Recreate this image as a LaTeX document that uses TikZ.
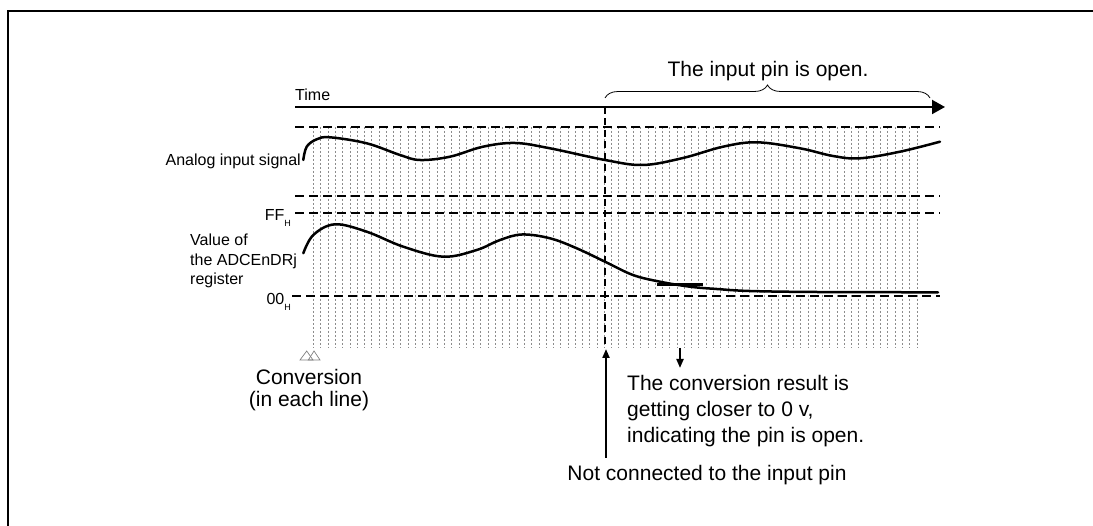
\documentclass[tikz,border=0pt]{standalone}
\usepackage{fontspec}
\setmainfont{Liberation Sans}
\usetikzlibrary{arrows.meta,decorations.pathreplacing}
\begin{document}
\begin{tikzpicture}[x=1pt,y=-1pt,
  big/.style={font=\fontsize{21}{25}\selectfont, inner sep=0pt},
  small/.style={font=\fontsize{16}{19}\selectfont, inner sep=0pt},
  level/.style={line width=2pt, dash pattern=on 8.5pt off 5.5pt},
  gridline/.style={line width=0.7pt, black!45, dash pattern=on 2.5pt off 1.5pt},
  signal/.style={line width=2.5pt, line cap=round},
  pointer/.style={line width=2pt, -{Triangle[length=9pt,width=7pt]}},
  tri/.style={black!50, line width=0.7pt, line join=miter},
]
\useasboundingbox (0,0) rectangle (1093,526);
% frame
\draw[line width=2pt] (7.5,527) -- (7.5,11) -- (1094,11);

% conversion grid
\foreach \i in {0,...,83}
  \draw[gridline] ({313.5+\i*7.27},127) -- ({313.5+\i*7.27},348);

% level lines
\draw[level] (295,127) -- (940,127);
\draw[level] (295,196) -- (940,196);
\draw[level] (295,213) -- (940,213);
\draw[level] (292,296) -- (940,296);

% time axis
\coordinate (t0) at (295,107);
\coordinate (t1) at (945,107);
\draw[line width=2pt, -{Triangle[length=13pt,width=14pt]}] (t0) -- (t1);
\node[small, anchor=base west] (time) at (295,101) {Time};

% vertical dashed marker
\coordinate (v0) at (605,107);
\coordinate (v1) at (605,348);
\draw[line width=2pt, dash pattern=on 7pt off 4.5pt] (v0) -- (v1);

% brace
\coordinate (b0) at (605,98);
\coordinate (b1) at (930,98);
\draw[line width=0.8pt, decorate, decoration={brace, amplitude=13pt}] (b0) -- (b1);
\node[big, anchor=base] (open) at (768,77) {The input pin is open.};

% analog input signal
\draw[signal] plot[smooth, tension=0.6] coordinates {
 (303.3,160) (306.7,146.7) (316.7,139.3) (330,137.3) (366.7,143.3) (400,155)
 (420,160) (450,156.7) (483,146.7) (515,143) (550,148.3) (605,160) (643,165)
 (683,158) (723,146.7) (757,142.3) (800,148.3) (833,156) (860,158.3)
 (900,151.7) (940,141.7)};

% register value
\draw[signal] plot[smooth, tension=0.6] coordinates {
 (303.3,253.3) (313.3,235) (335,224.3) (366.7,231.7) (403.3,246.7)
 (443.3,256.7) (476.7,250) (500,240) (522,234.5) (550,238.3) (576.7,248.3)
 (605,261.7) (633,275) (660,281.7) (690,286.7) (716.7,289) (750,291)
 (816.7,292) (938,292.3)};
\draw[line width=2.5pt] (657,284.3) -- (702.7,284.3);

% labels left
\node[small, anchor=base east] (ain) at (301,166) {Analog input signal};
\node[small, anchor=base east] (ff) at (291,221) {FF\raisebox{-6pt}{\fontsize{9}{9}\selectfont H}};
\node[small, anchor=base east] (zz) at (291,304.5) {00\raisebox{-6pt}{\fontsize{9}{9}\selectfont H}};
\node[small, anchor=base west] (val1) at (190,246) {Value of};
\node[small, anchor=base west] (val2) at (190,265.5) {the ADCEnDRj};
\node[small, anchor=base west] (val3) at (190,284.5) {register};

% conversion triangles
\draw[tri] (300,360) -- (306.7,351) -- (313,360) -- cycle;
\draw[tri] (308.3,360) -- (314,351) -- (320,360) -- cycle;
\node[big, anchor=base] (conv1) at (309,385) {Conversion};
\node[big, anchor=base] (conv2) at (309,407) {(in each line)};

% arrows and notes
\coordinate (u0) at (606,458);
\coordinate (u1) at (606,349);
\draw[pointer] (u0) -- (u1);
\node[big, anchor=base] (nc) at (707,481) {Not connected to the input pin};
\coordinate (d0) at (680,348);
\coordinate (d1) at (680,368);
\draw[pointer] (d0) -- (d1);
\node[big, anchor=base west] (r1) at (627,390.7) {The conversion result is};
\node[big, anchor=base west] (r2) at (627,416.7) {getting closer to 0 v,};
\node[big, anchor=base west] (r3) at (627,442.7) {indicating the pin is open.};
\end{tikzpicture}
\end{document}
